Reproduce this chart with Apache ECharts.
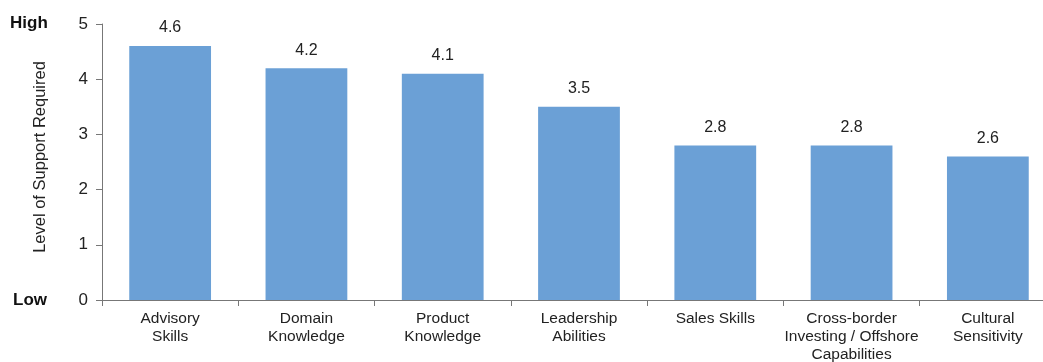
<!DOCTYPE html>
<html>
<head>
<meta charset="utf-8">
<script src="https://cdn.jsdelivr.net/npm/echarts@6/dist/echarts.min.js"></script>
<style>
  html, body { margin: 0; padding: 0; background: #fff; overflow: hidden; }
  #chart { width: 1056px; height: 362px; }
</style>
</head>
<body>
<div id="chart"></div>
<script>
const categories = [
  'Advisory\nSkills',
  'Domain\nKnowledge',
  'Product\nKnowledge',
  'Leadership\nAbilities',
  'Sales Skills',
  'Cross-border\nInvesting / Offshore\nCapabilities',
  'Cultural\nSensitivity'
];
const supportLevels = [4.6, 4.2, 4.1, 3.5, 2.8, 2.8, 2.6];
const yTicks = [0, 1, 2, 3, 4, 5];

const font = 'Liberation Sans, Arial, Helvetica, sans-serif';
const chart = echarts.init(document.getElementById('chart'));

// the right end of the last category falls just outside the picture
let option = {
  backgroundColor: '#ffffff',
  animation: false,
  grid: { left: 102, right: 0, top: 24, bottom: 62, outerBoundsMode: 'none' },
  graphic: [
    { type: 'text', left: 10, top: 15, style: { text: 'High', font: 'bold 17px ' + font, fill: '#111' } },
    { type: 'text', left: 13, top: 292, style: { text: 'Low', font: 'bold 17px ' + font, fill: '#111' } }
  ],
  xAxis: {
    type: 'category',
    data: categories,
    axisLine: { lineStyle: { color: '#777', width: 1 } },
    axisTick: { show: true, length: 6, lineStyle: { color: '#777' } },
    axisLabel: { color: '#222', fontFamily: font, fontSize: 15.5, lineHeight: 18, margin: 10, interval: 0 }
  },
  yAxis: {
    type: 'value',
    min: yTicks[0],
    max: yTicks[yTicks.length - 1],
    interval: 1,
    name: 'Level of Support Required',
    nameLocation: 'middle',
    nameGap: 53,
    nameTextStyle: { color: '#222', fontFamily: font, fontSize: 16.5, padding: [0, 0, 0, 10] },
    axisLine: { show: true, lineStyle: { color: '#777', width: 1 } },
    axisTick: { show: true, length: 6, lineStyle: { color: '#777' } },
    axisLabel: { color: '#222', fontFamily: font, fontSize: 17, margin: 14 },
    splitLine: { show: false }
  },
  series: [{
    name: 'Level of Support Required',
    type: 'bar',
    data: supportLevels,
    barWidth: '60%',
    itemStyle: { color: '#6ba0d6' },
    label: {
      show: true,
      position: 'top',
      distance: 10,
      color: '#222',
      fontFamily: font,
      fontSize: 16,
      formatter: (p) => p.value.toFixed(1)
    }
  }]
};

chart.setOption(option);
</script>
</body>
</html>
